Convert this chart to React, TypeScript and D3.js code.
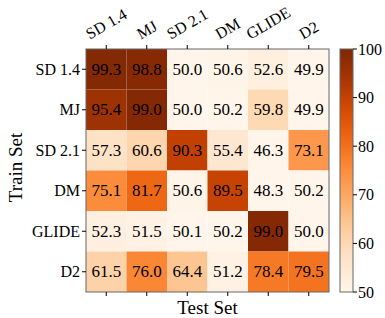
import React, { useEffect, useRef } from 'react';
import * as d3 from 'd3';

const trainSets = ['SD 1.4', 'MJ', 'SD 2.1', 'DM', 'GLIDE', 'D2'];
const testSets = ['SD 1.4', 'MJ', 'SD 2.1', 'DM', 'GLIDE', 'D2'];

const accRows: number[][] = [
  [99.3, 98.8, 50.0, 50.6, 52.6, 49.9],
  [95.4, 99.0, 50.0, 50.2, 59.8, 49.9],
  [57.3, 60.6, 90.3, 55.4, 46.3, 73.1],
  [75.1, 81.7, 50.6, 89.5, 48.3, 50.2],
  [52.3, 51.5, 50.1, 50.2, 99.0, 50.0],
  [61.5, 76.0, 64.4, 51.2, 78.4, 79.5],
];

const colorTicks = [50, 60, 70, 80, 90, 100];

const FONT = '"Liberation Serif", "DejaVu Serif", serif';

export default function App() {
  const svgRef = useRef<SVGSVGElement>(null);

  useEffect(() => {
    if (!svgRef.current) return;
    const svg = d3.select(svgRef.current);
    svg.selectAll('*').remove();

    const left = 86, top = 49, right = 329, bottom = 292;
    const x = d3.scaleBand().domain(testSets).range([left, right]);
    const y = d3.scaleBand().domain(trainSets).range([top, bottom]);
    const color = d3.scaleSequential(d3.interpolateOranges).domain([50, 100]);

    // cells
    const cells = svg.append('g');
    accRows.forEach((row, i) => {
      row.forEach((v, j) => {
        const cx = x(testSets[j])!;
        const cy = y(trainSets[i])!;
        cells.append('rect')
          .attr('x', cx).attr('y', cy)
          .attr('width', x.bandwidth()).attr('height', y.bandwidth())
          .attr('fill', color(Math.max(50, v)));
        cells.append('text')
          .attr('x', cx + x.bandwidth() / 2)
          .attr('y', cy + y.bandwidth() / 2)
          .attr('text-anchor', 'middle')
          .attr('dominant-baseline', 'central')
          .attr('font-family', FONT)
          .attr('font-size', 17)
          .attr('fill', '#000')
          .text(v.toFixed(1));
      });
    });

    // frame
    svg.append('rect')
      .attr('x', left).attr('y', top)
      .attr('width', right - left).attr('height', bottom - top)
      .attr('fill', 'none').attr('stroke', '#666').attr('stroke-width', 1);

    // ticks
    testSets.forEach(s => {
      const cx = x(s)! + x.bandwidth() / 2;
      svg.append('line').attr('x1', cx).attr('x2', cx).attr('y1', top - 4).attr('y2', top).attr('stroke', '#000');
      svg.append('line').attr('x1', cx).attr('x2', cx).attr('y1', bottom).attr('y2', bottom + 4).attr('stroke', '#000');
      const t = svg.append('text')
        .attr('text-anchor', 'middle')
        .attr('dominant-baseline', 'central')
        .attr('font-family', FONT)
        .attr('font-size', 16)
        .text(s);
      const w = (t.node() as SVGTextElement).getComputedTextLength();
      const h = 14;
      const half = (w * 0.5 + h * 0.866) / 2;
      t.attr('transform', `translate(${cx},${top - 8 - half}) rotate(-30)`);
    });

    trainSets.forEach(s => {
      const cy = y(s)! + y.bandwidth() / 2;
      svg.append('line').attr('x1', left - 4).attr('x2', left).attr('y1', cy).attr('y2', cy).attr('stroke', '#000');
      svg.append('text')
        .attr('x', left - 6).attr('y', cy)
        .attr('text-anchor', 'end')
        .attr('dominant-baseline', 'central')
        .attr('font-family', FONT)
        .attr('font-size', 16)
        .text(s);
    });

    // axis titles
    svg.append('text')
      .attr('x', (left + right) / 2).attr('y', 307)
      .attr('text-anchor', 'middle')
      .attr('dominant-baseline', 'central')
      .attr('font-family', FONT)
      .attr('font-size', 19)
      .text('Test Set');
    svg.append('text')
      .attr('transform', `translate(15,${(top + bottom) / 2 - 3}) rotate(-90)`)
      .attr('text-anchor', 'middle')
      .attr('dominant-baseline', 'central')
      .attr('font-family', FONT)
      .attr('font-size', 19)
      .text('Train Set');

    // colorbar
    const cbLeft = 340, cbWidth = 13;
    const cbY = d3.scaleLinear().domain([50, 100]).range([bottom, top]);
    const defs = svg.append('defs');
    const grad = defs.append('linearGradient')
      .attr('id', 'cbgrad').attr('x1', 0).attr('x2', 0).attr('y1', 1).attr('y2', 0);
    d3.range(0, 1.0001, 0.05).forEach(p => {
      grad.append('stop').attr('offset', p).attr('stop-color', color(50 + p * 50));
    });
    svg.append('rect')
      .attr('x', cbLeft).attr('y', top)
      .attr('width', cbWidth).attr('height', bottom - top)
      .attr('fill', 'url(#cbgrad)')
      .attr('stroke', '#666').attr('stroke-width', 1);
    colorTicks.forEach(v => {
      svg.append('line')
        .attr('x1', cbLeft + cbWidth).attr('x2', cbLeft + cbWidth + 4)
        .attr('y1', cbY(v)).attr('y2', cbY(v)).attr('stroke', '#000');
      svg.append('text')
        .attr('x', cbLeft + cbWidth + 5).attr('y', cbY(v))
        .attr('dominant-baseline', 'central')
        .attr('font-family', FONT)
        .attr('font-size', 16)
        .text(v);
    });
  }, []);

  return (
    <svg ref={svgRef} width={385} height={318}
      style={{ position: 'absolute', left: 0, top: 0, background: '#fff' }} />
  );
}
